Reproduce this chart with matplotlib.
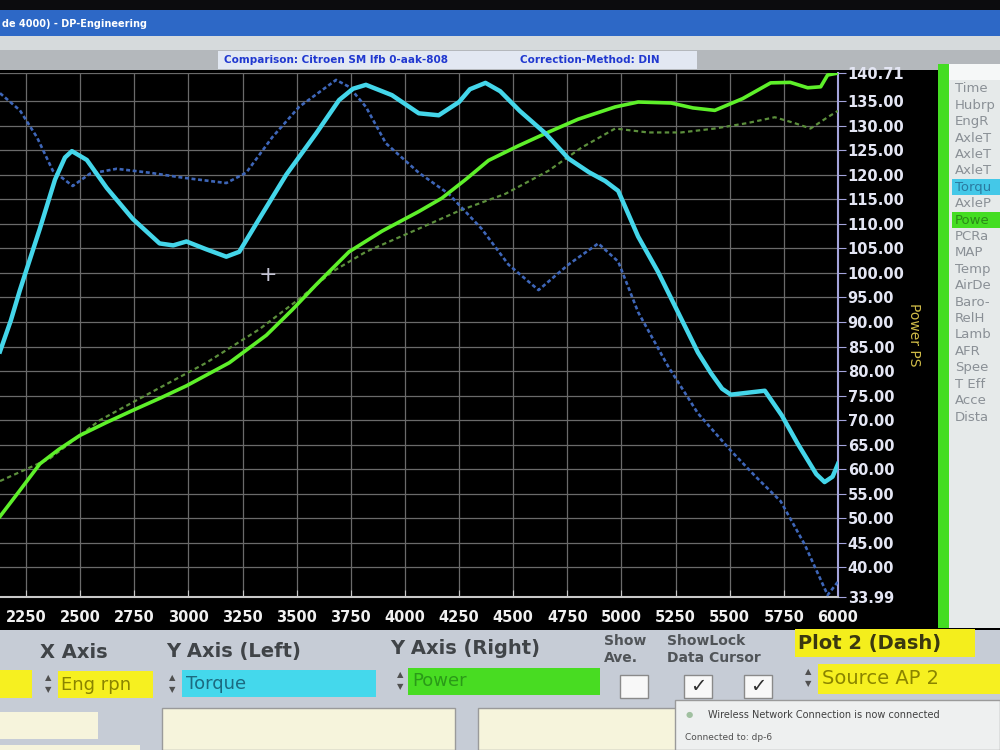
import matplotlib
matplotlib.use('Agg')
import matplotlib.pyplot as plt
from matplotlib.patches import Rectangle

W, H = 1000, 750

# run 1 (solid) torque, read in the units of the right hand scale (left scale is off screen)
rpm_tq1 = [2130, 2180, 2222, 2314, 2384, 2430, 2462, 2531, 2623, 2743, 2867, 2930, 2991, 3083,
           3175, 3235, 3327, 3452, 3590, 3696, 3760, 3820, 3940, 4064, 4156, 4250, 4300, 4372,
           4440, 4530, 4649, 4755, 4850, 4925, 4985, 5077, 5169, 5261, 5353, 5413, 5465, 5505,
           5583, 5662, 5740, 5814, 5900, 5938, 5975, 6000]
torque1 = [84, 90.3, 96.5, 109, 119, 123.5, 124.8, 123, 117.3, 111, 106, 105.6, 106.4, 104.8,
           103.3, 104.3, 111, 120, 128.4, 135.2, 137.5, 138.3, 136.2, 132.5, 132.1, 134.8, 137.4, 138.7,
           137, 133, 128.4, 123.3, 120.5, 118.7, 116.7, 107.4, 100.2, 92, 83.8, 79.6, 76.4, 75.2,
           75.6, 76, 71, 65.2, 59, 57.4, 58.5, 61.1]

# run 1 (solid) power
rpm_pw1 = [2130, 2220, 2314, 2400, 2499, 2620, 2743, 2870, 2991, 3189, 3360, 3480, 3590, 3742,
           3894, 4064, 4170, 4280, 4386, 4520, 4649, 4800, 4971, 5077, 5229, 5330, 5431, 5560,
           5689, 5780, 5860, 5920, 5952, 6000]
power1 = [50.4, 55.6, 61.1, 64, 66.9, 69.5, 72, 74.5, 77, 81.7, 87.3, 92.5, 97.6, 104.3,
          108.5, 112.5, 115.2, 119, 122.9, 125.8, 128.4, 131.3, 133.8, 134.8, 134.6, 133.6, 133.1, 135.5,
          138.7, 138.8, 137.7, 137.9, 140.3, 140.7]

# plot 2 (dash) torque
rpm_tq2 = [2130, 2222, 2301, 2374, 2466, 2545, 2669, 2821, 2973, 3175, 3267, 3387, 3511, 3682,
           3742, 3820, 3912, 4064, 4202, 4354, 4478, 4617, 4755, 4893, 4985, 5077, 5215, 5353,
           5505, 5620, 5735, 5846, 5952, 6000]
torque2 = [136.6, 133.1, 127.6, 120.8, 117.7, 120.2, 121.2, 120.4, 119.4, 118.3, 120.4, 127.6, 133.8, 139.3,
           137.9, 133.8, 126.4, 120.4, 116.1, 109, 101.7, 96.5, 101.7, 106, 102.3, 92, 81, 71.4,
           63.8, 58.5, 53.5, 44.7, 34.4, 37.1]

# plot 2 (dash) power
rpm_pw2 = [2130, 2360, 2591, 2821, 3083, 3327, 3512, 3663, 3820, 4064, 4248, 4464, 4663, 4815,
           4971, 5123, 5275, 5431, 5580, 5708, 5800, 5873, 5952, 6000]
power2 = [57.6, 62.2, 70, 75.5, 81.7, 88.5, 94.7, 100.2, 104.3, 109, 112.6, 116.1, 120.8, 125.5,
          129.4, 128.6, 128.6, 129.4, 130.5, 131.7, 130.5, 129.4, 131.7, 133]

x_ticks = list(range(2250, 6001, 250))
y_ticks = [33.99, 40, 45, 50, 55, 60, 65, 70, 75, 80, 85, 90, 95, 100, 105, 110,
           115, 120, 125, 130, 135, 140.71]
channels = ['Time', 'Hubrp', 'EngR', 'AxleT', 'AxleT', 'AxleT', 'Torqu', 'AxleP', 'Powe',
            'PCRa', 'MAP', 'Temp', 'AirDe', 'Baro-', 'RelH', 'Lamb', 'AFR', 'Spee',
            'T Eff', 'Acce', 'Dista']

fig = plt.figure(figsize=(10, 7.5), dpi=100, facecolor='black')


def box(x0, y0, x1, y1, color, ec='none', lw=0, z=-5):
    fig.add_artist(Rectangle((x0 / W, 1 - y1 / H), (x1 - x0) / W, (y1 - y0) / H,
                             transform=fig.transFigure, fc=color, ec=ec, lw=lw, zorder=z))


def label(x, y, s, **kw):
    kw.setdefault('va', 'center')
    fig.text(x / W, 1 - y / H, s, **kw)


# window chrome
box(0, 0, 1000, 10, '#0c0c0e')
box(0, 10, 1000, 36, '#2d68c6')
box(0, 36, 1000, 50, '#d6dadc')
box(0, 50, 1000, 70, '#b4b8bc')
box(218, 51, 697, 69, '#e2e8f2')
label(2, 24, 'de 4000) - DP-Engineering', color='white', fontsize=7, fontweight='bold')
label(224, 60, 'Comparison: Citroen SM lfb 0-aak-808', color='#2038d0', fontsize=7.5, fontweight='bold')
label(520, 60, 'Correction-Method: DIN', color='#2038d0', fontsize=7.5, fontweight='bold')

# channel list at the right
box(938, 64, 949, 628, '#44dd22')
box(949, 64, 1000, 628, '#e6eaea')
box(949, 64, 1000, 80, '#f6f8f8')
for i, name in enumerate(channels):
    yy = 89 + i * 16.4
    col = '#8a9096'
    if name == 'Torqu':
        box(952, yy - 8, 1000, yy + 8, '#44c8e8')
        col = '#2a7aa0'
    if name == 'Powe':
        box(952, yy - 8, 1000, yy + 8, '#44dd22')
        col = '#2a8a18'
    label(955, yy, name, color=col, fontsize=9.5)

# main plot
ax = fig.add_axes([0, 1 - 597 / H, 838 / W, (597 - 73) / H])
ax.set_facecolor('black')
ax.plot(rpm_pw2, power2, color='#5c8f3c', lw=1.6, ls=(0, (2, 1.5)), zorder=3)
ax.plot(rpm_tq2, torque2, color='#3e66b8', lw=1.9, ls=(0, (1.5, 1)), zorder=3)
ax.plot(rpm_pw1, power1, color='#5ef02a', lw=2.6, zorder=4)
ax.plot(rpm_tq1, torque1, color='#44d6ea', lw=3.2, zorder=5)

ax.set_xlim(2130, 6000)
ax.set_ylim(33.99, 140.71)
ax.set_xticks(x_ticks)
ax.yaxis.tick_right()
ax.set_yticks(y_ticks)
ax.set_yticklabels([f'{v:.2f}' for v in y_ticks])
ax.grid(True, color='#6a6a6a', lw=0.9)
ax.set_axisbelow(True)
for s in ['left', 'top']:
    ax.spines[s].set_visible(False)
ax.spines['bottom'].set_color('#c8c8c8')
ax.spines['bottom'].set_linewidth(1.5)
ax.spines['right'].set_color('#a4a4dc')
ax.spines['right'].set_linewidth(1.5)
ax.tick_params(axis='x', colors='#c8c8c8', labelcolor='#f0f0f0', direction='in',
               length=5, pad=9, labelsize=10.5)
ax.tick_params(axis='y', colors='#a4a4dc', labelcolor='#e4e6f4', direction='out',
               length=6, pad=1, labelsize=10.5)
for t in ax.get_xticklabels() + ax.get_yticklabels():
    t.set_fontweight('bold')
ax.yaxis.set_label_position('right')
ax.set_ylabel('Power PS', rotation=270, color='#d0bc48', fontsize=10, labelpad=12)

# cursor cross
label(268, 275, '+', color='#c4c4d4', fontsize=16, ha='center')

# control panel at the bottom
box(0, 630, 1000, 750, '#c6ccd6')
lab = dict(color='#404448', fontsize=14, fontweight='bold')
label(40, 652, 'X Axis', **lab)
label(166, 652, 'Y Axis (Left)', **lab)
label(390, 649, 'Y Axis (Right)', **lab)
small = dict(color='#505458', fontsize=10, fontweight='bold')
label(604, 641, 'Show', **small)
label(604, 658, 'Ave.', **small)
label(667, 641, 'ShowLock', **small)
label(667, 658, 'Data Cursor', **small)
box(795, 629, 975, 657, '#f4ee1c')
label(798, 643, 'Plot 2 (Dash)', color='#3a3810', fontsize=14, fontweight='bold')

box(0, 670, 32, 698, '#f6f020')
box(58, 671, 153, 698, '#f6f020')
label(61, 685, 'Eng rpn', color='#8a8400', fontsize=13)
box(182, 670, 376, 697, '#44d8ec')
label(186, 684, 'Torque', color='#1c6a80', fontsize=13)
box(408, 668, 600, 695, '#48dc22')
label(412, 681, 'Power', color='#2a9a18', fontsize=13)
box(818, 664, 1000, 694, '#f6f020')
label(822, 678, 'Source AP 2', color='#8a8400', fontsize=14)
for sx, sy in [(48, 684), (172, 684), (400, 681), (808, 678)]:
    label(sx, sy - 6, '\u25b2', color='#505050', fontsize=6, ha='center')
    label(sx, sy + 6, '\u25bc', color='#505050', fontsize=6, ha='center')
for cx, checked in [(620, False), (684, True), (744, True)]:
    box(cx, 675, cx + 28, 698, '#f8f8f8', ec='#8a8a8a', lw=1)
    if checked:
        label(cx + 14, 686, '\u2713', color='#303030', fontsize=14, ha='center')

box(0, 712, 98, 739, '#f6f4dc')
box(0, 745, 140, 750, '#f6f4dc')
box(162, 708, 455, 750, '#f6f4dc', ec='#9a9a9a', lw=1)
box(478, 708, 690, 750, '#f6f4dc', ec='#9a9a9a', lw=1)
box(675, 700, 1000, 750, '#eef0f0', ec='#9a9a9a', lw=1)
label(686, 715, '\u25cf', color='#a0c0a0', fontsize=6)
label(708, 715, 'Wireless Network Connection is now connected', color='#404040', fontsize=7)
label(685, 738, 'Connected to: dp-6', color='#505050', fontsize=6.5)

fig.savefig('out.png', dpi=100, facecolor='black')
